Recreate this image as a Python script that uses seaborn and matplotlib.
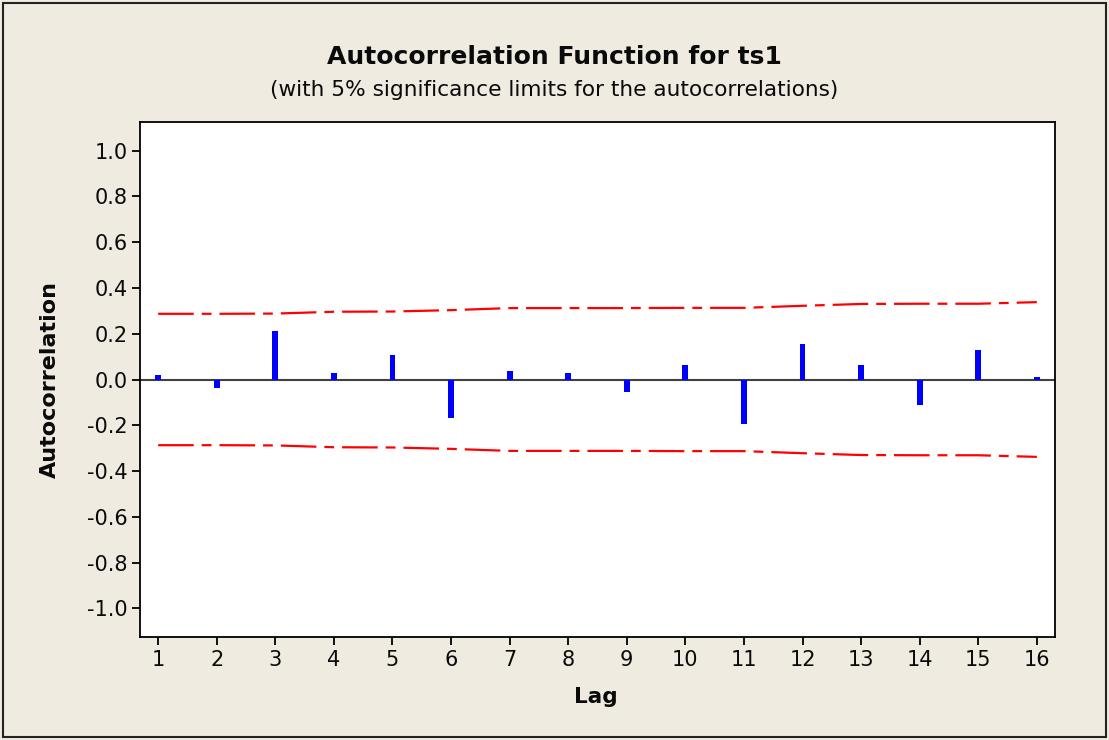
import matplotlib
matplotlib.use("Agg")
import matplotlib.pyplot as plt
import seaborn as sns
import pandas as pd
from matplotlib.patches import Rectangle

# ---- data ----
lags = list(range(1, 17))
acf_values = [0.02, -0.036, 0.214, 0.029, 0.106, -0.17, 0.039, 0.03,
              -0.055, 0.064, -0.196, 0.156, 0.064, -0.113, 0.131, 0.012]
upper_limit = [0.287, 0.287, 0.288, 0.296, 0.297, 0.303, 0.312, 0.312,
               0.312, 0.313, 0.313, 0.322, 0.330, 0.331, 0.331, 0.338]
lower_limit = [-v for v in upper_limit]
y_ticks = [-1.0, -0.8, -0.6, -0.4, -0.2, 0.0, 0.2, 0.4, 0.6, 0.8, 1.0]
title = "Autocorrelation Function for ts1"
subtitle = "(with 5% significance limits for the autocorrelations)"

df = pd.DataFrame({"Lag": lags, "ACF": acf_values,
                   "Upper": upper_limit, "Lower": lower_limit})

sns.set_theme(style="white")
plt.rcParams['font.family'] = ['DejaVu Sans']

bg = "#EFEBE1"
txt = "#0a0a0a"
W, H = 1109, 740
fig = plt.figure(figsize=(W / 100, H / 100), dpi=100, facecolor=bg)
ax = fig.add_axes([140 / W, 1 - 637 / H, (1055 - 140) / W, (637 - 122) / H])
ax.set_facecolor("white")

# zero line
ax.axhline(0, color="#404040", lw=1.5, zorder=1)

# ACF bars
sns.barplot(data=df, x="Lag", y="ACF", native_scale=True, width=0.1,
            color="#0000FF", saturation=1, linewidth=0, ax=ax, zorder=3)

# significance limits
for col in ["Upper", "Lower"]:
    sns.lineplot(data=df, x="Lag", y=col, color="#FF0000", lw=1.6, ax=ax,
                 zorder=2)
for line in ax.get_lines()[1:]:
    line.set_dashes((16, 3.6, 4.4, 3.6))

ax.set_xlim(0.69, 16.31)
ax.set_ylim(-1.125, 1.125)
ax.set_xticks(lags)
ax.set_xticklabels([str(l) for l in lags])
ax.set_yticks(y_ticks)
ax.set_yticklabels([f"{t:.1f}" for t in y_ticks])
ax.tick_params(axis="both", direction="out", length=6, width=1.3,
               color="black", labelsize=15, labelcolor=txt, pad=3,
               left=True, bottom=True)
for s in ax.spines.values():
    s.set_color("black")
    s.set_linewidth(1.3)

ax.set_xlabel("")
ax.set_ylabel("")
fig.text(596 / W, 1 - 697 / H, "Lag", ha="center", va="center",
         fontsize=15.5, fontweight="bold", color=txt)
fig.text(50 / W, 1 - 380 / H, "Autocorrelation", ha="center", va="center",
         rotation=90, fontsize=16, fontweight="bold", color=txt)

fig.text(0.5, 1 - 57 / H, title, ha="center", va="center",
         fontsize=18, fontweight="bold", color=txt)
fig.text(0.5, 1 - 90 / H, subtitle, ha="center", va="center",
         fontsize=15.6, color=txt)

# outer border
fig.patches.append(Rectangle((3 / W, 3 / H), (W - 6) / W, (H - 6) / H,
                             transform=fig.transFigure, fill=False,
                             edgecolor="#222222", lw=1.5))

fig.savefig("out.png", dpi=100, facecolor=bg)
